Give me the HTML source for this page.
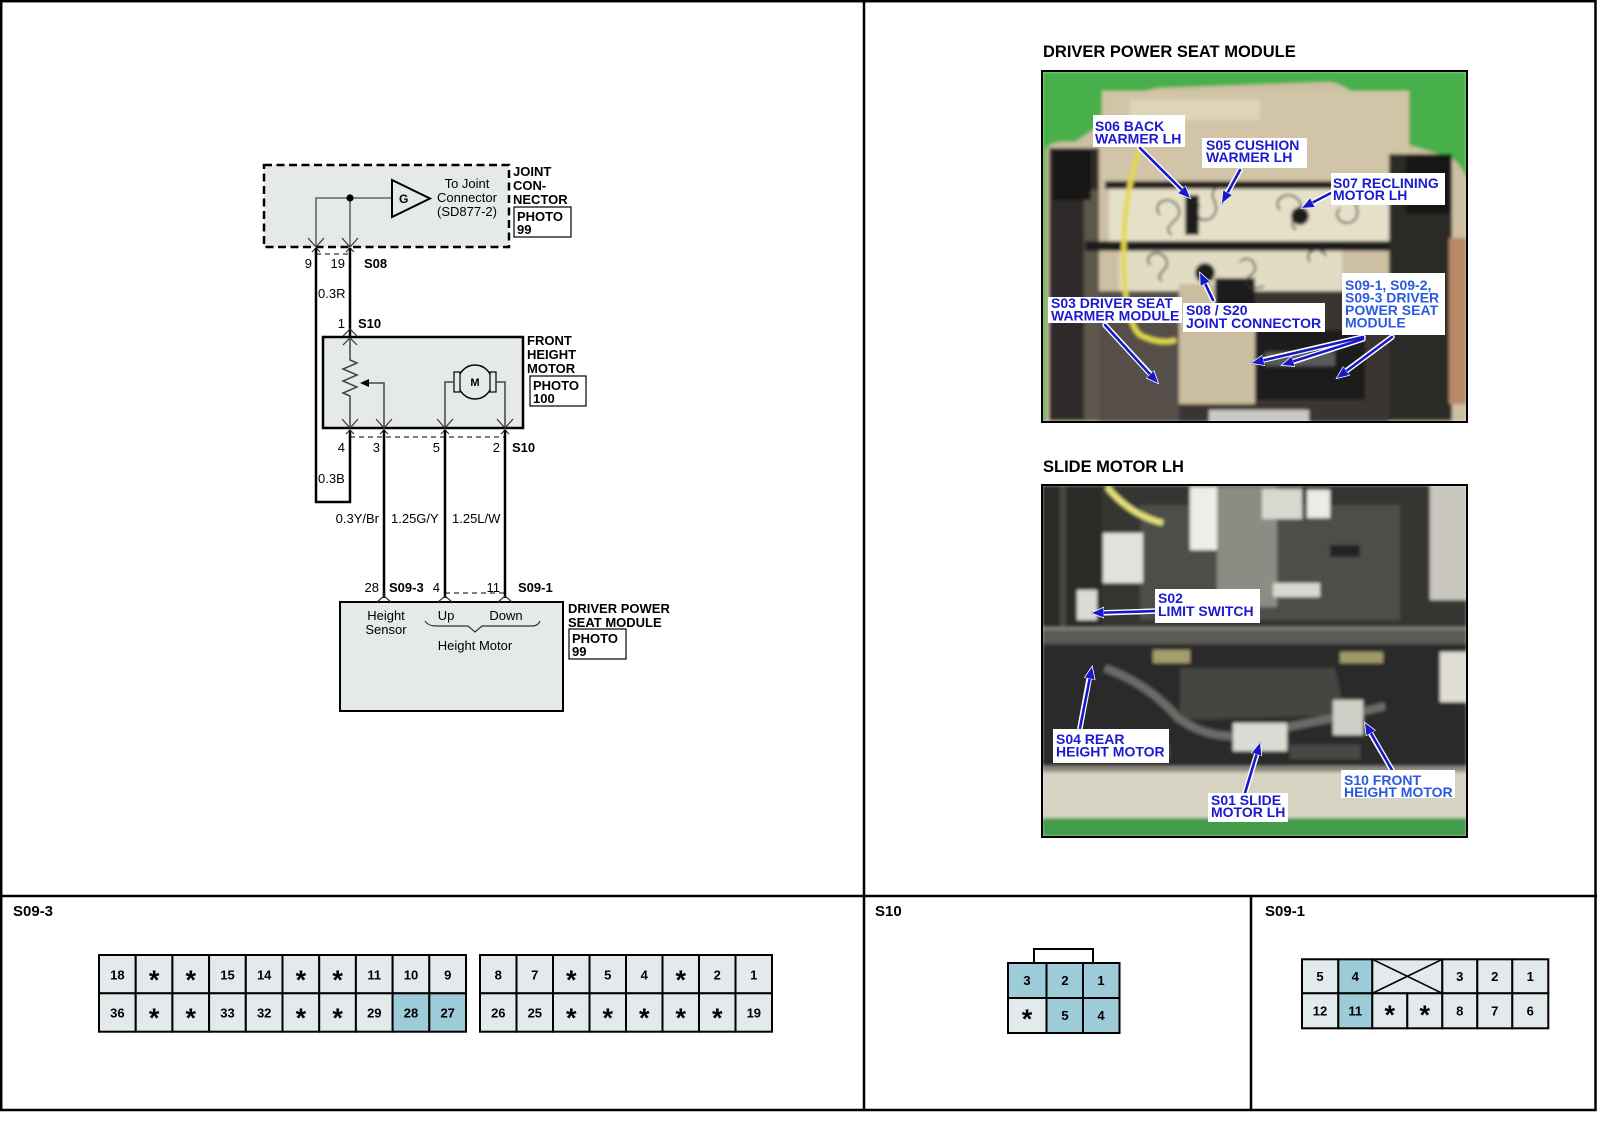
<!DOCTYPE html>
<html><head><meta charset="utf-8"><style>
html,body{margin:0;padding:0;background:#fff;}
svg{display:block;}
text{font-family:"Liberation Sans",Arial,sans-serif;}
</style></head><body>
<svg width="1600" height="1143" viewBox="0 0 1600 1143" xmlns="http://www.w3.org/2000/svg">
<defs>
<filter id="soft" x="0" y="0" width="1" height="1"><feGaussianBlur stdDeviation="1.6"/></filter>
<clipPath id="c1"><rect x="1042" y="71" width="425" height="351"/></clipPath>
<clipPath id="c2"><rect x="1042" y="485" width="425" height="352"/></clipPath>
<marker id="ah" markerWidth="14" markerHeight="12" refX="12" refY="6" orient="auto" markerUnits="userSpaceOnUse">
<path d="M0,0.5 L13,6 L0,11.5 Z" fill="#1818c8" stroke="#fff" stroke-width="0.8"/>
</marker>
</defs>
<rect width="1600" height="1143" fill="#fff"/>

<!-- frame & dividers -->
<rect x="1.2" y="1.2" width="1594.3" height="1108.8" fill="none" stroke="#000" stroke-width="2.5"/>
<line x1="864" y1="0" x2="864" y2="1111" stroke="#000" stroke-width="2.5"/>
<line x1="0" y1="896" x2="1597" y2="896" stroke="#000" stroke-width="2.5"/>
<line x1="1251" y1="896" x2="1251" y2="1111" stroke="#000" stroke-width="2.5"/>

<!-- ===== SCHEMATIC ===== -->
<rect x="264" y="165" width="245" height="82" fill="#e6e9ea" stroke="#000" stroke-width="2.5" stroke-dasharray="8,4.5"/>
<path d="M392,198 H316 V246 M350,198 V246" fill="none" stroke="#666" stroke-width="1.6"/>
<circle cx="350" cy="198" r="3.6" fill="#000"/>
<polygon points="392,180 392,217 430,198.5" fill="#e6e9ea" stroke="#000" stroke-width="2"/>
<text x="399" y="203" font-size="12" font-weight="bold">G</text>
<text x="467" y="188" font-size="13" text-anchor="middle">To Joint</text>
<text x="467" y="202" font-size="13" text-anchor="middle">Connector</text>
<text x="467" y="216" font-size="13" text-anchor="middle">(SD877-2)</text>
<text x="513" y="176" font-size="13" font-weight="bold">JOINT</text>
<text x="513" y="190" font-size="13" font-weight="bold">CON-</text>
<text x="513" y="204" font-size="13" font-weight="bold">NECTOR</text>
<rect x="514" y="207" width="57" height="30" fill="#fff" stroke="#000" stroke-width="1.2"/>
<text x="517" y="221" font-size="13" font-weight="bold">PHOTO</text>
<text x="517" y="234" font-size="13" font-weight="bold">99</text>

<!-- S08 connector symbols -->
<path d="M308,238 L316,247 L324,238 M312,252 L316,248 L320,252 M342,238 L350,247 L358,238 M346,252 L350,248 L354,252" fill="none" stroke="#333" stroke-width="1.2"/>
<line x1="316" y1="254" x2="350" y2="254" stroke="#000" stroke-width="1" stroke-dasharray="5,4"/>
<text x="312" y="268" font-size="13" text-anchor="end">9</text>
<text x="345" y="268" font-size="13" text-anchor="end">19</text>
<text x="364" y="268" font-size="13" font-weight="bold">S08</text>

<!-- wires -->
<path d="M316,248 V502 H350 V430" fill="none" stroke="#000" stroke-width="2.5"/>
<path d="M350,248 V336" fill="none" stroke="#000" stroke-width="2.5"/>
<text x="318" y="298" font-size="13">0.3R</text>
<text x="345" y="328" font-size="13" text-anchor="end">1</text>
<text x="358" y="328" font-size="13" font-weight="bold">S10</text>

<!-- front height motor -->
<rect x="323" y="337" width="200" height="91" fill="#e6e9ea" stroke="#000" stroke-width="2.5"/>
<path d="M343,336 L350,329 L357,336 M343,345 L350,338 L357,345" fill="none" stroke="#333" stroke-width="1.2"/>
<path d="M350,339 V360 l7,3 l-14,6 l14,6 l-14,6 l14,6 l-14,6 l7,3 V428" fill="none" stroke="#444" stroke-width="1.5"/>
<path d="M384,428 V383 H368" fill="none" stroke="#444" stroke-width="1.5"/>
<polygon points="360,383 369,379 369,387" fill="#000"/>
<circle cx="475" cy="382" r="17" fill="#e6e9ea" stroke="#000" stroke-width="1.5"/>
<rect x="454" y="372" width="6" height="20" fill="#e6e9ea" stroke="#000" stroke-width="1.2"/>
<rect x="490" y="372" width="6" height="20" fill="#e6e9ea" stroke="#000" stroke-width="1.2"/>
<text x="475" y="386" font-size="11" font-weight="bold" text-anchor="middle">M</text>
<path d="M454,382 H445 V428 M496,382 H505 V428" fill="none" stroke="#444" stroke-width="1.5"/>
<text x="527" y="345" font-size="13" font-weight="bold">FRONT</text>
<text x="527" y="359" font-size="13" font-weight="bold">HEIGHT</text>
<text x="527" y="373" font-size="13" font-weight="bold">MOTOR</text>
<rect x="530" y="376" width="56" height="30" fill="#fff" stroke="#000" stroke-width="1.2"/>
<text x="533" y="390" font-size="13" font-weight="bold">PHOTO</text>
<text x="533" y="403" font-size="13" font-weight="bold">100</text>

<!-- bottom connector of S10 -->
<path d="M342,419 L350,428 L358,419 M346,434 L350,430 L354,434 M376,419 L384,428 L392,419 M380,434 L384,430 L388,434 M437,419 L445,428 L453,419 M441,434 L445,430 L449,434 M497,419 L505,428 L513,419 M501,434 L505,430 L509,434" fill="none" stroke="#333" stroke-width="1.2"/>
<line x1="350" y1="437" x2="505" y2="437" stroke="#000" stroke-width="1" stroke-dasharray="5,4"/>
<text x="345" y="452" font-size="13" text-anchor="end">4</text>
<text x="380" y="452" font-size="13" text-anchor="end">3</text>
<text x="440" y="452" font-size="13" text-anchor="end">5</text>
<text x="500" y="452" font-size="13" text-anchor="end">2</text>
<text x="512" y="452" font-size="13" font-weight="bold">S10</text>
<path d="M384,430 V598 M445,430 V598 M505,430 V598" fill="none" stroke="#000" stroke-width="2.5"/>
<text x="318" y="483" font-size="13">0.3B</text>
<text x="379" y="523" font-size="13" text-anchor="end">0.3Y/Br</text>
<text x="391" y="523" font-size="13">1.25G/Y</text>
<text x="452" y="523" font-size="13">1.25L/W</text>

<!-- module -->
<line x1="445" y1="593" x2="505" y2="593" stroke="#000" stroke-width="1" stroke-dasharray="5,4"/>
<text x="379" y="592" font-size="13" text-anchor="end">28</text>
<text x="389" y="592" font-size="13" font-weight="bold">S09-3</text>
<text x="440" y="592" font-size="13" text-anchor="end">4</text>
<text x="500" y="592" font-size="13" text-anchor="end">11</text>
<text x="518" y="592" font-size="13" font-weight="bold">S09-1</text>
<rect x="340" y="602" width="223" height="109" fill="#e6e9ea" stroke="#000" stroke-width="2"/>
<path d="M377,602 L384,596 L391,602 M438,602 L445,596 L452,602 M498,602 L505,596 L512,602" fill="none" stroke="#333" stroke-width="1.2"/>
<text x="386" y="620" font-size="13" text-anchor="middle">Height</text>
<text x="386" y="634" font-size="13" text-anchor="middle">Sensor</text>
<text x="446" y="620" font-size="13" text-anchor="middle">Up</text>
<text x="506" y="620" font-size="13" text-anchor="middle">Down</text>
<path d="M425,621 Q428,626 436,626 H468 L475,632 L482,626 H532 Q538,626 540,621" fill="none" stroke="#333" stroke-width="1.2"/>
<text x="475" y="650" font-size="13" text-anchor="middle">Height Motor</text>
<text x="568" y="613" font-size="13" font-weight="bold">DRIVER POWER</text>
<text x="568" y="627" font-size="13" font-weight="bold">SEAT MODULE</text>
<rect x="569" y="629" width="57" height="30" fill="#fff" stroke="#000" stroke-width="1.2"/>
<text x="572" y="643" font-size="13" font-weight="bold">PHOTO</text>
<text x="572" y="656" font-size="13" font-weight="bold">99</text>

<!-- ===== PHOTO 1 ===== -->
<text x="1043" y="57" font-size="16.5" font-weight="bold">DRIVER POWER SEAT MODULE</text>
<g clip-path="url(#c1)">
<g filter="url(#soft)">
<rect x="1042" y="71" width="425" height="351" fill="#46b04c"/>
<path d="M1046,422 L1046,150 Q1050,140 1075,142 L1110,118 Q1125,92 1160,88 L1330,82 Q1345,84 1360,100 L1390,140 Q1420,148 1452,158 Q1462,166 1467,180 L1467,422 Z" fill="#cdbfa2"/>
<rect x="1102" y="91" width="307" height="92" fill="#d2c4a6"/>
<rect x="1130" y="100" width="130" height="20" fill="#ddd4bc"/>
<rect x="1049" y="148" width="50" height="273" fill="#2e2c29"/>
<rect x="1084" y="190" width="15" height="230" fill="#5d564c"/>
<rect x="1053" y="150" width="38" height="50" fill="#161616"/>
<rect x="1105" y="181" width="292" height="8" fill="#262422"/>
<rect x="1109" y="189" width="293" height="52" fill="#e7e0c9"/>
<rect x="1085" y="241" width="370" height="10" fill="#1e1d1c"/>
<rect x="1119" y="251" width="223" height="40" fill="#e3dcc4"/>
<rect x="1389" y="154" width="63" height="267" fill="#2b2925"/>
<rect x="1406" y="154" width="46" height="60" fill="#151515"/>
<rect x="1449" y="238" width="18" height="166" fill="#b68b6b"/>
<rect x="1099" y="291" width="290" height="131" fill="#3a3630"/>
<rect x="1099" y="291" width="80" height="131" fill="#56504a"/>
<rect x="1179" y="284" width="76" height="120" fill="#cbbd9f"/>
<rect x="1255" y="330" width="110" height="70" fill="#1c1c1c"/>
<rect x="1265" y="352" width="70" height="14" fill="#5a5a58"/>
<rect x="1209" y="410" width="100" height="12" fill="#c8c8c4"/>
<rect x="1215" y="278" width="40" height="30" fill="#1c1c1c"/>
<path d="M1140,148 Q1122,200 1124,260 Q1124,320 1140,335 Q1160,345 1176,340" fill="none" stroke="#e4d846" stroke-width="5"/>
<path d="M1160,215 c-10,-12 10,-22 18,-8 c8,14 -20,18 -6,28 M1200,205 c-12,10 6,22 14,10 c8,-12 -10,-20 4,-28 M1280,210 c-10,-12 12,-22 20,-8 c6,12 -16,18 -4,28 M1340,208 c-10,10 8,22 16,10 c6,-12 -10,-20 4,-26 M1150,265 c-8,-10 10,-18 16,-6 c6,12 -14,14 -4,22 M1240,262 c10,-10 22,6 10,14 c-10,8 2,16 14,10 M1310,262 c-8,-10 10,-18 16,-6" fill="none" stroke="#333" stroke-width="1.8"/>
<rect x="1185" y="195" width="14" height="40" fill="#1f1f1f"/>
<circle cx="1300" cy="216" r="9" fill="#1f1f1f"/>
<circle cx="1205" cy="273" r="10" fill="#1f1f1f"/>
</g>
</g>
<rect x="1042" y="71" width="425" height="351" fill="none" stroke="#000" stroke-width="2"/>

<!-- photo1 arrows -->
<g stroke-linecap="round">
<g stroke="#fff" stroke-width="5.5" fill="none">
<line x1="1140" y1="148" x2="1184" y2="192"/>
<line x1="1240" y1="170" x2="1225" y2="197"/>
<line x1="1331" y1="193" x2="1308" y2="205"/>
<line x1="1213" y1="300" x2="1203" y2="279"/>
<line x1="1105" y1="325" x2="1153" y2="377"/>
<line x1="1363" y1="337" x2="1259" y2="361"/>
<line x1="1363" y1="339" x2="1289" y2="363"/>
<line x1="1392" y1="337" x2="1342" y2="374"/>
</g>
<g stroke="#1818c8" stroke-width="2.6" fill="none" marker-end="url(#ah)">
<line x1="1140" y1="148" x2="1190" y2="198"/>
<line x1="1240" y1="170" x2="1222" y2="203"/>
<line x1="1331" y1="193" x2="1302" y2="208"/>
<line x1="1213" y1="300" x2="1200" y2="273"/>
<line x1="1105" y1="325" x2="1158" y2="383"/>
<line x1="1363" y1="337" x2="1252" y2="363"/>
<line x1="1363" y1="339" x2="1282" y2="365"/>
<line x1="1392" y1="337" x2="1337" y2="378"/>
</g>
</g>
<g font-size="14" font-weight="bold" fill="#1a1ad0">
<rect x="1093" y="115" width="92" height="32" fill="#fff"/>
<text x="1095" y="131">S06 BACK</text>
<text x="1095" y="143.5">WARMER LH</text>
<rect x="1202" y="138" width="105" height="30" fill="#fff"/>
<text x="1206" y="150">S05 CUSHION</text>
<text x="1206" y="162">WARMER LH</text>
<rect x="1331" y="173" width="114" height="32" fill="#fff"/>
<text x="1333" y="188">S07 RECLINING</text>
<text x="1333" y="200">MOTOR LH</text>
<rect x="1048" y="297" width="134" height="26" fill="#fff"/>
<text x="1051" y="308">S03 DRIVER SEAT</text>
<text x="1051" y="320.5">WARMER MODULE</text>
<rect x="1183" y="303" width="142" height="29" fill="#fff"/>
<text x="1186" y="315">S08 / S20</text>
<text x="1186" y="328">JOINT CONNECTOR</text>
<rect x="1342" y="273" width="103" height="62" fill="#fff"/>
<g fill="#2a5ae0">
<text x="1345" y="290">S09-1, S09-2,</text>
<text x="1345" y="302.5">S09-3 DRIVER</text>
<text x="1345" y="315">POWER SEAT</text>
<text x="1345" y="327.5">MODULE</text>
</g>
</g>

<!-- ===== PHOTO 2 ===== -->
<text x="1043" y="472" font-size="16.5" font-weight="bold">SLIDE MOTOR LH</text>
<g clip-path="url(#c2)">
<g filter="url(#soft)">
<rect x="1042" y="485" width="425" height="352" fill="#363532"/>
<rect x="1042" y="485" width="60" height="143" fill="#2a2a28"/>
<rect x="1060" y="485" width="6" height="143" fill="#4a4a45"/>
<rect x="1140" y="505" width="260" height="115" fill="#4e4d48"/>
<rect x="1103" y="533" width="40" height="50" fill="#e2e2dc"/>
<rect x="1190" y="487" width="27" height="63" fill="#eeeee8"/>
<rect x="1217" y="487" width="60" height="120" fill="#8c8c84"/>
<rect x="1262" y="489" width="40" height="30" fill="#d8d8d0"/>
<rect x="1307" y="490" width="23" height="28" fill="#ececE6"/>
<rect x="1430" y="485" width="37" height="115" fill="#c9c7be"/>
<rect x="1273" y="583" width="47" height="14" fill="#d8d8d0"/>
<rect x="1077" y="590" width="20" height="30" fill="#dcdcd4"/>
<rect x="1330" y="545" width="30" height="12" fill="#202020"/>
<path d="M1107,487 Q1130,515 1163,523" fill="none" stroke="#e5e07a" stroke-width="6"/>
<rect x="1042" y="627" width="425" height="17" fill="#5a5a55"/>
<rect x="1042" y="627" width="425" height="3" fill="#85857d"/>
<rect x="1042" y="644" width="425" height="126" fill="#2c2c2a"/>
<rect x="1153" y="650" width="37" height="13" fill="#a49d6c"/>
<rect x="1340" y="652" width="43" height="11" fill="#a09a6a"/>
<path d="M1180,668 L1335,668 L1345,715 L1180,720 Z" fill="#454543"/>
<path d="M1105,668 Q1150,685 1178,718 Q1215,745 1265,732 Q1310,722 1345,716 L1385,706" fill="none" stroke="#6b6b67" stroke-width="8"/>
<rect x="1233" y="723" width="54" height="28" fill="#dcdcd4"/>
<rect x="1333" y="700" width="30" height="35" fill="#cfcfc7"/>
<rect x="1440" y="652" width="27" height="50" fill="#e0ddd5"/>
<rect x="1060" y="745" width="110" height="12" fill="#4a4a46"/>
<rect x="1290" y="745" width="70" height="14" fill="#4a4a46"/>
<rect x="1042" y="770" width="425" height="50" fill="#d6d3c3"/>
<rect x="1042" y="766" width="425" height="6" fill="#8d8a80"/>
<rect x="1042" y="818" width="425" height="19" fill="#429c49"/>
</g>
</g>
<rect x="1042" y="485" width="425" height="352" fill="none" stroke="#000" stroke-width="2"/>

<g stroke-linecap="round">
<g stroke="#fff" stroke-width="5.5" fill="none">
<line x1="1157" y1="611" x2="1099" y2="613"/>
<line x1="1080" y1="728" x2="1090" y2="674"/>
<line x1="1245" y1="793" x2="1258" y2="750"/>
<line x1="1392" y1="770" x2="1368" y2="729"/>
</g>
<g stroke="#1818c8" stroke-width="2.6" fill="none" marker-end="url(#ah)">
<line x1="1157" y1="611" x2="1092" y2="613"/>
<line x1="1080" y1="728" x2="1092" y2="667"/>
<line x1="1245" y1="793" x2="1260" y2="743"/>
<line x1="1392" y1="770" x2="1365" y2="723"/>
</g>
</g>
<g font-size="14" font-weight="bold" fill="#1a1ad0">
<rect x="1155" y="589" width="105" height="34" fill="#fff"/>
<text x="1158" y="603">S02</text>
<text x="1158" y="616">LIMIT SWITCH</text>
<rect x="1053" y="729" width="116" height="34" fill="#fff"/>
<text x="1056" y="744">S04 REAR</text>
<text x="1056" y="756.5">HEIGHT MOTOR</text>
<rect x="1208" y="793" width="80" height="29" fill="#fff"/>
<text x="1211" y="805">S01 SLIDE</text>
<text x="1211" y="817">MOTOR LH</text>
<rect x="1341" y="770" width="114" height="28" fill="#fff"/>
<g fill="#2a5ae0">
<text x="1344" y="785">S10 FRONT</text>
<text x="1344" y="797">HEIGHT MOTOR</text>
</g>
</g>

<!-- ===== CONNECTOR TABLES ===== -->
<g font-weight="bold">
<text x="13" y="916" font-size="15">S09-3</text>
<text x="875" y="916" font-size="15">S10</text>
<text x="1265" y="916" font-size="15">S09-1</text>
</g>

<!-- S09-3 left -->
<g stroke="#000" stroke-width="2" fill="#e3eaeb">
<rect x="99" y="955" width="36.7" height="38.3"/><rect x="135.7" y="955" width="36.7" height="38.3"/><rect x="172.4" y="955" width="36.7" height="38.3"/><rect x="209.1" y="955" width="36.7" height="38.3"/><rect x="245.8" y="955" width="36.7" height="38.3"/><rect x="282.5" y="955" width="36.7" height="38.3"/><rect x="319.2" y="955" width="36.7" height="38.3"/><rect x="355.9" y="955" width="36.7" height="38.3"/><rect x="392.6" y="955" width="36.7" height="38.3"/><rect x="429.3" y="955" width="36.7" height="38.3"/>
<rect x="99" y="993.3" width="36.7" height="38.4"/><rect x="135.7" y="993.3" width="36.7" height="38.4"/><rect x="172.4" y="993.3" width="36.7" height="38.4"/><rect x="209.1" y="993.3" width="36.7" height="38.4"/><rect x="245.8" y="993.3" width="36.7" height="38.4"/><rect x="282.5" y="993.3" width="36.7" height="38.4"/><rect x="319.2" y="993.3" width="36.7" height="38.4"/><rect x="355.9" y="993.3" width="36.7" height="38.4"/><rect x="392.6" y="993.3" width="36.7" height="38.4" fill="#9dcbd8"/><rect x="429.3" y="993.3" width="36.7" height="38.4" fill="#9dcbd8"/>
</g>
<g font-size="13" font-weight="bold" text-anchor="middle">
<text x="117.4" y="979.5">18</text><text x="227.5" y="979.5">15</text><text x="264.2" y="979.5">14</text><text x="374.3" y="979.5">11</text><text x="411" y="979.5">10</text><text x="447.7" y="979.5">9</text>
<text x="117.4" y="1017.5">36</text><text x="227.5" y="1017.5">33</text><text x="264.2" y="1017.5">32</text><text x="374.3" y="1017.5">29</text><text x="411" y="1017.5">28</text><text x="447.7" y="1017.5">27</text>
</g>
<g font-size="27" font-weight="bold" text-anchor="middle">
<text x="154.1" y="989">*</text><text x="190.8" y="989">*</text><text x="300.9" y="989">*</text><text x="337.6" y="989">*</text>
<text x="154.1" y="1027">*</text><text x="190.8" y="1027">*</text><text x="300.9" y="1027">*</text><text x="337.6" y="1027">*</text>
</g>

<!-- S09-3 right -->
<g stroke="#000" stroke-width="2" fill="#e3eaeb">
<rect x="480" y="955" width="36.5" height="38.3"/><rect x="516.5" y="955" width="36.5" height="38.3"/><rect x="553" y="955" width="36.5" height="38.3"/><rect x="589.5" y="955" width="36.5" height="38.3"/><rect x="626" y="955" width="36.5" height="38.3"/><rect x="662.5" y="955" width="36.5" height="38.3"/><rect x="699" y="955" width="36.5" height="38.3"/><rect x="735.5" y="955" width="36.5" height="38.3"/>
<rect x="480" y="993.3" width="36.5" height="38.4"/><rect x="516.5" y="993.3" width="36.5" height="38.4"/><rect x="553" y="993.3" width="36.5" height="38.4"/><rect x="589.5" y="993.3" width="36.5" height="38.4"/><rect x="626" y="993.3" width="36.5" height="38.4"/><rect x="662.5" y="993.3" width="36.5" height="38.4"/><rect x="699" y="993.3" width="36.5" height="38.4"/><rect x="735.5" y="993.3" width="36.5" height="38.4"/>
</g>
<g font-size="13" font-weight="bold" text-anchor="middle">
<text x="498.3" y="979.5">8</text><text x="534.8" y="979.5">7</text><text x="607.8" y="979.5">5</text><text x="644.3" y="979.5">4</text><text x="717.3" y="979.5">2</text><text x="753.8" y="979.5">1</text>
<text x="498.3" y="1017.5">26</text><text x="534.8" y="1017.5">25</text><text x="753.8" y="1017.5">19</text>
</g>
<g font-size="27" font-weight="bold" text-anchor="middle">
<text x="571.3" y="989">*</text><text x="680.8" y="989">*</text>
<text x="571.3" y="1027">*</text><text x="607.8" y="1027">*</text><text x="644.3" y="1027">*</text><text x="680.8" y="1027">*</text><text x="717.3" y="1027">*</text>
</g>

<!-- S10 -->
<path d="M1034,963 V949 H1093 V963" fill="none" stroke="#000" stroke-width="2"/>
<g stroke="#000" stroke-width="2" fill="#9dcbd8">
<rect x="1008" y="963" width="38.5" height="35"/><rect x="1046.5" y="963" width="36.5" height="35"/><rect x="1083" y="963" width="36.5" height="35"/>
<rect x="1008" y="998" width="38.5" height="35" fill="#e3eaeb"/><rect x="1046.5" y="998" width="36.5" height="35"/><rect x="1083" y="998" width="36.5" height="35"/>
</g>
<g font-size="13" font-weight="bold" text-anchor="middle">
<text x="1027" y="985">3</text><text x="1065" y="985">2</text><text x="1101" y="985">1</text>
<text x="1065" y="1020">5</text><text x="1101" y="1020">4</text>
</g>
<text x="1027" y="1028" font-size="27" font-weight="bold" text-anchor="middle">*</text>

<!-- S09-1 -->
<g stroke="#000" stroke-width="2" fill="#e3eaeb">
<rect x="1302" y="959.3" width="36.3" height="34"/><rect x="1338.3" y="959.3" width="34" height="34" fill="#9dcbd8"/><rect x="1372.3" y="959.3" width="70" height="34"/><rect x="1442.3" y="959.3" width="35" height="34"/><rect x="1477.3" y="959.3" width="35" height="34"/><rect x="1512.3" y="959.3" width="36" height="34"/>
<rect x="1302" y="993.3" width="36.3" height="35"/><rect x="1338.3" y="993.3" width="34" height="35" fill="#9dcbd8"/><rect x="1372.3" y="993.3" width="35" height="35"/><rect x="1407.3" y="993.3" width="35" height="35"/><rect x="1442.3" y="993.3" width="35" height="35"/><rect x="1477.3" y="993.3" width="35" height="35"/><rect x="1512.3" y="993.3" width="36" height="35"/>
<path d="M1372.3,959.3 L1442.3,993.3 M1442.3,959.3 L1372.3,993.3" fill="none" stroke-width="1.6"/>
</g>
<g font-size="13" font-weight="bold" text-anchor="middle">
<text x="1320" y="981">5</text><text x="1355.3" y="981">4</text><text x="1459.8" y="981">3</text><text x="1494.8" y="981">2</text><text x="1530.3" y="981">1</text>
<text x="1320" y="1015.5">12</text><text x="1355.3" y="1015.5">11</text><text x="1459.8" y="1015.5">8</text><text x="1494.8" y="1015.5">7</text><text x="1530.3" y="1015.5">6</text>
</g>
<g font-size="27" font-weight="bold" text-anchor="middle">
<text x="1389.8" y="1024">*</text><text x="1424.8" y="1024">*</text>
</g>
</svg>
</body></html>
